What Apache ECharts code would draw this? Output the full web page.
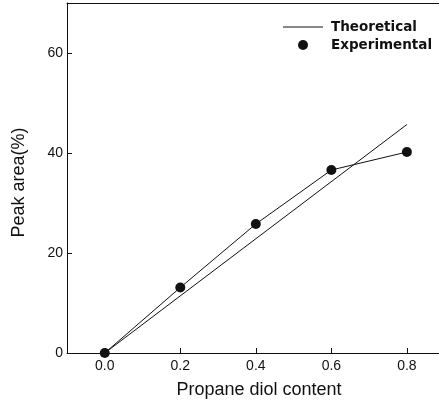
<!DOCTYPE html>
<html>
<head>
<meta charset="utf-8">
<script src="https://cdn.jsdelivr.net/npm/echarts@6/dist/echarts.min.js"></script>
<style>html,body{margin:0;padding:0;background:#fff;}#c{width:439px;height:405px;}</style>
</head>
<body>
<div id="c"></div>
<script>
const contentX = [0.0, 0.2, 0.4, 0.6, 0.8];
const experimental = [0.0, 13.1, 25.8, 36.6, 40.2];
const theoreticalX = [0.0, 0.8];
const theoretical = [0.0, 45.7];
const xTickLabels = ['0.0', '0.2', '0.4', '0.6', '0.8'];
const yTickValues = [0, 20, 40, 60];
const yTickLabels = ['0', '20', '40', '60'];

const chart = echarts.init(document.getElementById('c'), null, {renderer: 'canvas'});
const labelFont = {fontFamily: 'Liberation Sans, Arial, sans-serif', fontSize: 14, color: '#111'};
const X_MIN = -0.1, X_MAX = 0.885;
chart.setOption({
  animation: false,
  backgroundColor: '#fff',
  grid: {left: 67, right: 0, top: 3, bottom: 52, show: false},
  legend: {
    left: 283, top: 20, orient: 'vertical', padding: 0, itemGap: 4,
    itemWidth: 40, itemHeight: 10,
    textStyle: {fontFamily: 'DejaVu Sans', fontWeight: 'bold', fontSize: 13.5, color: '#111', padding: [0, 0, 0, 3]},
    data: [{name: 'Theoretical', icon: 'path://M0,0 H40 V1 H0 Z'}, {name: 'Experimental', icon: 'circle'}]
  },
  xAxis: [{
    type: 'value', min: X_MIN, max: X_MAX, position: 'bottom',
    name: 'Propane diol content', nameLocation: 'middle', nameGap: 28,
    nameTextStyle: {fontFamily: 'Liberation Sans, Arial, sans-serif', fontSize: 18, color: '#111', padding: [0, 0, 0, 12]},
    axisLine: {show: true, onZero: false, lineStyle: {color: '#111', width: 1}},
    axisTick: {show: true, inside: true, length: 5, customValues: contentX, lineStyle: {color: '#111'}},
    axisLabel: Object.assign({margin: 6, customValues: contentX,
      formatter: v => { const i = contentX.findIndex(c => Math.abs(c - v) < 1e-6); return i >= 0 ? xTickLabels[i] : ''; }}, labelFont),
    splitLine: {show: false}
  }, {
    type: 'value', min: X_MIN, max: X_MAX, position: 'top',
    axisLine: {show: true, onZero: false, lineStyle: {color: '#111', width: 1}},
    axisTick: {show: false}, axisLabel: {show: false}, splitLine: {show: false}
  }],
  yAxis: {
    type: 'value', min: 0, max: 70,
    name: 'Peak area(%)', nameLocation: 'middle', nameGap: 39,
    nameTextStyle: {fontFamily: 'Liberation Sans, Arial, sans-serif', fontSize: 18, color: '#111', padding: [0, 0, 0, -9]},
    axisLine: {show: true, onZero: false, lineStyle: {color: '#111', width: 1}},
    axisTick: {show: true, inside: true, length: 5, customValues: yTickValues, lineStyle: {color: '#111'}},
    axisLabel: Object.assign({margin: 4, customValues: yTickValues,
      formatter: v => { const i = yTickValues.findIndex(c => Math.abs(c - v) < 1e-6); return i >= 0 ? yTickLabels[i] : ''; }}, labelFont),
    splitLine: {show: false}
  },
  series: [
    {
      name: 'Theoretical', type: 'line', symbol: 'none', clip: false, xAxisIndex: 0,
      data: theoreticalX.map((x, i) => [x, theoretical[i]]),
      lineStyle: {color: '#111', width: 1}, itemStyle: {color: '#111'}
    },
    {
      name: 'Experimental', type: 'line', symbol: 'circle', symbolSize: 10, clip: false, xAxisIndex: 0,
      data: contentX.map((x, i) => [x, experimental[i]]),
      lineStyle: {color: '#111', width: 1}, itemStyle: {color: '#111'}
    }
  ]
});
</script>
</body>
</html>
